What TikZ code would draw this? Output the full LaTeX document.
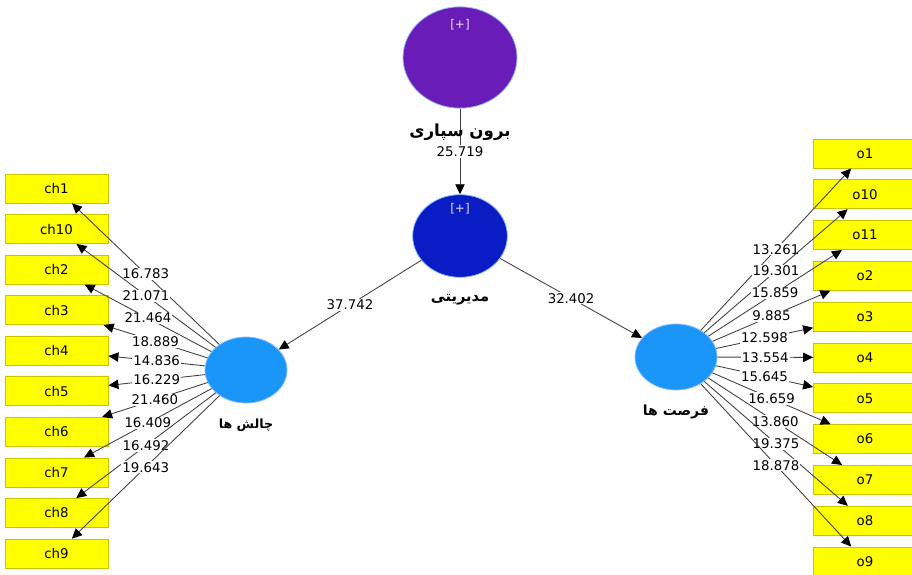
\documentclass[tikz,border=0pt]{standalone}
\usepackage{fontspec}
\setmainfont{DejaVu Sans}
\newfontfamily\arabicfont[Script=Arabic]{DejaVu Sans}
\TeXXeTstate=1
\usetikzlibrary{arrows.meta,shapes.geometric}
\definecolor{outsrc}{HTML}{6A1CB8}
\definecolor{mgmt}{HTML}{0A1CC4}
\definecolor{lv}{HTML}{1A96F8}
\definecolor{rim}{HTML}{8DB8FF}
\definecolor{boxfill}{HTML}{FFFF00}
\definecolor{boxedge}{HTML}{C8C400}
\definecolor{plustext}{HTML}{E6DDF5}
\begin{document}
\begin{tikzpicture}[x=0.75pt,y=-0.75pt,
  every node/.style={font=\fontsize{10}{11}\selectfont},
  item/.style={draw=boxedge, fill=boxfill, line width=0.6pt, inner sep=0pt,
    minimum width=77.25pt, minimum height=21.75pt},
  latent/.style={ellipse, draw=rim, line width=0.6pt, inner sep=0pt},
  link/.style={draw=black!75, line width=0.65pt,
    -{Triangle[length=7.5pt,width=7pt,color=black]}},
  wt/.style={fill=white, inner sep=0.8pt},
  plus/.style={text=plustext, font=\fontsize{9}{10}\selectfont},
  fa/.style={font=\arabicfont\bfseries\fontsize{10.5}{12}\selectfont}]
\useasboundingbox (0,0) rectangle (912,574);
\clip (0,0) rectangle (912,574);

% latent variables
\node[latent, fill=outsrc, minimum width=85.5pt, minimum height=76pt] (os) at (460,57.5) {};
\node[plus] (osplus) at (460,25) {[+]};
\node[latent, fill=mgmt, minimum width=71pt, minimum height=62pt] (mg) at (460,236) {};
\node[plus] (mgplus) at (460,209) {[+]};
\node[latent, fill=lv, minimum width=61.5pt, minimum height=49.5pt] (chal) at (246,370) {};
\node[latent, fill=lv, minimum width=61.5pt, minimum height=49.5pt] (fors) at (676,357) {};

% indicators
\foreach \n [count=\i from 0] in {1,10,2,3,4,5,6,7,8,9}
  \node[item] (ch\n) at (56.5,188.5+40.56*\i) {ch\n};
\foreach \n [count=\i from 0] in {1,10,11,2,3,4,5,6,7,8,9}
  \node[item] (o\n) at (865,153.5+40.8*\i) {o\n};

% structural paths
\draw[link] (os) -- node[wt] {25.719} (mg);
\draw[link] (mg) -- node[wt] {37.742} (chal);
\draw[link] (mg) -- node[wt] {32.402} (fors);

% measurement paths
\foreach \n/\v in {1/16.783,10/21.071,2/21.464,3/18.889,4/14.836,5/16.229,6/21.460,7/16.409,8/16.492,9/19.643}
  \draw[link] (chal) -- node[wt] {\v} (ch\n);
\foreach \n/\v in {1/13.261,10/19.301,11/15.859,2/9.885,3/12.598,4/13.554,5/15.645,6/16.659,7/13.860,8/19.375,9/18.878}
  \draw[link] (fors) -- node[wt] {\v} (o\n);

% construct names
\node[fa, font=\arabicfont\bfseries\fontsize{12.5}{14}\selectfont] (oslbl) at (460,132) {\beginR برون سپاری\endR};
\node[fa, font=\arabicfont\bfseries\fontsize{11}{12}\selectfont] (mglbl) at (460,300) {\beginR مدیریتی\endR};
\node[fa, font=\arabicfont\bfseries\fontsize{9.5}{11}\selectfont] (chlbl) at (246,425) {\beginR چالش ها\endR};
\node[fa] (folbl) at (676,412) {\beginR فرصت ها\endR};
\end{tikzpicture}
\end{document}
